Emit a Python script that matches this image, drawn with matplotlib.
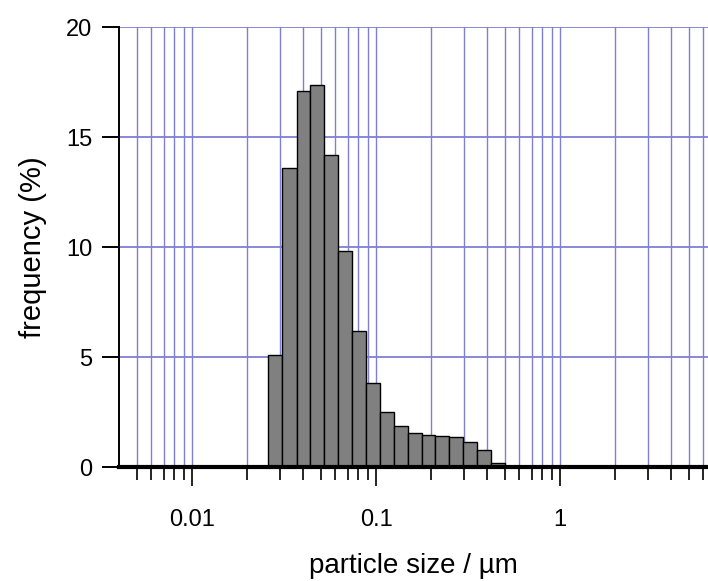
"""Particle size distribution histogram (log-scaled size axis)."""
import matplotlib
matplotlib.use("Agg")
import matplotlib.pyplot as plt
from matplotlib.ticker import FixedLocator, FuncFormatter, LogLocator, NullFormatter
import numpy as np

plt.rcParams["font.family"] = ["Liberation Sans", "DejaVu Sans"]

# bin edges (um) and frequency per bin (%)
bin_edges = [0.026, 0.031, 0.037, 0.044, 0.052, 0.062, 0.074, 0.088, 0.105,
             0.125, 0.149, 0.177, 0.21, 0.25, 0.297, 0.354, 0.42, 0.50]
frequency = [5.1, 13.6, 17.1, 17.35, 14.2, 9.8, 6.2, 3.8, 2.5,
             1.85, 1.55, 1.45, 1.42, 1.38, 1.15, 0.77, 0.2]
x_major = [0.01, 0.1, 1]
y_ticks = [0, 5, 10, 15, 20]

GRID = "#7f7fd4"

fig = plt.figure(figsize=(7.08, 5.81), dpi=100)
ax = fig.add_axes([119 / 708, 114 / 581, 589 / 708, 440 / 581])

edges = np.array(bin_edges)
ax.bar(edges[:-1], frequency, width=np.diff(edges), align="edge",
       color="#808080", edgecolor="black", linewidth=1.0, zorder=3)
ax.axhline(0, color="black", lw=3, zorder=4, clip_on=False)

ax.set_xscale("log")
ax.set_xlim(0.00401, 6.37)
ax.set_ylim(0, 20)

ax.xaxis.set_major_locator(FixedLocator(x_major))
ax.xaxis.set_major_formatter(FuncFormatter(lambda v, p: f"{v:g}"))
ax.xaxis.set_minor_locator(LogLocator(base=10, subs=np.arange(2, 10), numticks=20))
ax.xaxis.set_minor_formatter(NullFormatter())
ax.set_yticks(y_ticks)

ax.grid(True, which="both", axis="x", color=GRID, lw=1.0, zorder=0)
ax.grid(True, which="major", axis="y", color=GRID, lw=1.3, zorder=0)
ax.set_axisbelow(True)

for s in ("top", "right", "bottom"):
    ax.spines[s].set_visible(False)
ax.spines["left"].set_linewidth(1.4)

ax.tick_params(axis="x", which="major", direction="out", length=14, width=1.2,
               pad=16, labelsize=17)
ax.tick_params(axis="x", which="minor", direction="out", length=9, width=1.2)
ax.tick_params(axis="y", which="major", direction="out", length=12, width=1.4,
               pad=7, labelsize=17)

ax.set_xlabel("particle size / µm", fontsize=20, labelpad=16)
ax.set_ylabel("frequency (%)", fontsize=21, labelpad=14)

fig.savefig("out.png", dpi=100)
